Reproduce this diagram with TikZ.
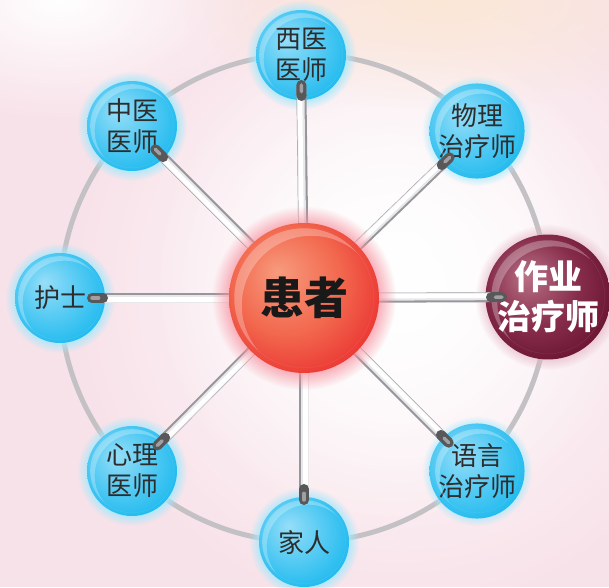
\documentclass[tikz,border=0pt]{standalone}
\usepackage{fontspec}
\newfontfamily\cjk{Noto Sans CJK SC}
\usetikzlibrary{calc,fadings}
\definecolor{bgpink}{RGB}{248,226,233}
\definecolor{peach}{RGB}{252,232,214}
\definecolor{ringgray}{RGB}{196,193,197}
\definecolor{bA}{RGB}{150,222,248}
\definecolor{bB}{RGB}{80,201,243}
\definecolor{bC}{RGB}{12,180,236}
\definecolor{glowB}{RGB}{165,232,252}
\definecolor{rA}{RGB}{247,155,125}
\definecolor{rB}{RGB}{242,104,78}
\definecolor{rC}{RGB}{232,35,40}
\definecolor{glowR}{RGB}{246,140,155}
\definecolor{mA}{RGB}{185,115,135}
\definecolor{mB}{RGB}{135,45,75}
\definecolor{mC}{RGB}{95,12,42}
\definecolor{glowM}{RGB}{228,180,196}
\definecolor{txt}{RGB}{45,45,45}
\definecolor{spkedge}{RGB}{150,150,155}
\definecolor{spkmid}{RGB}{232,232,234}
\definecolor{capdark}{RGB}{88,88,90}
\definecolor{capmid}{RGB}{160,160,162}
\pgfdeclareradialshading{blueball}{\pgfpoint{-9bp}{9bp}}{color(0bp)=(bA); color(18bp)=(bB); color(36bp)=(bC); color(50bp)=(bC)}
\pgfdeclareradialshading{redball}{\pgfpoint{-9bp}{9bp}}{color(0bp)=(rA); color(18bp)=(rB); color(36bp)=(rC); color(50bp)=(rC)}
\pgfdeclareradialshading{maroonball}{\pgfpoint{-9bp}{9bp}}{color(0bp)=(mA); color(18bp)=(mB); color(36bp)=(mC); color(50bp)=(mC)}
\tikzfading[name=softfade, inner color=transparent!0, outer color=transparent!100]
\pgfdeclarelayer{back}
\pgfdeclarelayer{sat}
\pgfdeclarelayer{spoke}
\pgfsetlayers{back,sat,spoke,main}
\newcommand\ballgloss[2]{%
  \begin{scope}
    \clip (#1.center) circle ({0.93*#2});
    \fill[white, opacity=0.28, even odd rule] (#1.center) circle ({0.93*#2})
      ($(#1.center)+({0.1*#2},{-0.1*#2})$) circle ({0.93*#2});
  \end{scope}}
\begin{document}
\begin{tikzpicture}[x=1pt,y=1pt,
  sat/.style={circle, minimum size=90pt, inner sep=0pt, shade, shading=blueball,
    align=center, text=txt, font=\cjk\fontsize{26}{31}\selectfont},
  satmaroon/.style={circle, minimum size=122pt, inner sep=0pt, shade, shading=maroonball,
    align=center, text=white, font=\cjk\bfseries\fontsize{34}{40}\selectfont},
  hub/.style={circle, minimum size=150pt, inner sep=0pt, shade, shading=redball,
    align=center, text=black!90, font=\cjk\bfseries\fontsize{44}{50}\selectfont}]
\useasboundingbox (0,0) rectangle (609,587);
\begin{pgfonlayer}{back}
  \fill[bgpink] (0,0) rectangle (609,587);
  \fill[white, path fading=softfade] (400,300) ellipse (330 and 330);
  \fill[white, path fading=softfade] (390,310) ellipse (240 and 250);
  \fill[white, path fading=softfade] (60,587) ellipse (200 and 120);
  \fill[peach, path fading=softfade] (440,587) ellipse (260 and 110);
  \draw[ringgray, line width=5pt] (304,289) circle (244);
  \foreach \x/\y in {301/532, 477/456, 477/116, 304/45, 132/116, 60/289, 132/461}
    \fill[glowB, opacity=0.85, path fading=circle with fuzzy edge 20 percent] (\x,\y) circle (55);
  \fill[glowM, opacity=0.8, path fading=circle with fuzzy edge 20 percent] (548,290) circle (73);
\end{pgfonlayer}
\begin{pgfonlayer}{sat}
  \node[sat] (A1) at (301,532) {西医\\医师};
  \node[sat] (A2) at (477,456) {物理\\治疗师};
  \node[satmaroon] (A3) at (548,290) {作业\\治疗师};
  \node[sat] (A4) at (477,116) {语言\\治疗师};
  \node[sat] (A5) at (304,45) {家人};
  \node[sat] (A6) at (132,116) {心理\\医师};
  \node[sat] (A7) at (60,289) {护士};
  \node[sat] (A8) at (132,461) {中医\\医师};
  \foreach \n in {A1,A2,A4,A5,A6,A7,A8} {\ballgloss{\n}{45}}
  \ballgloss{A3}{61}
\end{pgfonlayer}
\fill[glowR, opacity=0.7, path fading=circle with fuzzy edge 20 percent] (304,289) circle (92);
\node[hub] (P) at (304,289) {患者};
\ballgloss{P}{75}
\begin{pgfonlayer}{spoke}
  \foreach \n/\d/\s in {A1/30/41, A2/38/49, A3/46/57, A4/40/51, A5/42/53, A6/36/47, A7/32/43, A8/33/44} {
    \coordinate (e) at ($(\n.center)!\d pt!(P.center)$);
    \coordinate (s) at ($(\n.center)!\s pt!(P.center)$);
    \draw[line width=10pt, spkedge] (P.center) -- (e);
    \draw[line width=7.5pt, spkmid] ($(P.center)!0.8pt!90:(e)$) -- ($(e)!0.8pt!-90:(P.center)$);
    \draw[line width=4.5pt, white] ($(P.center)!1.5pt!90:(e)$) -- ($(e)!1.5pt!-90:(P.center)$);
    \draw[line width=10pt, capdark, line cap=round] (s) -- (e);
    \draw[line width=3.5pt, capmid, line cap=round] ($(s)!0.4!(e)$) -- (e);
  }
\end{pgfonlayer}
\end{tikzpicture}
\end{document}
